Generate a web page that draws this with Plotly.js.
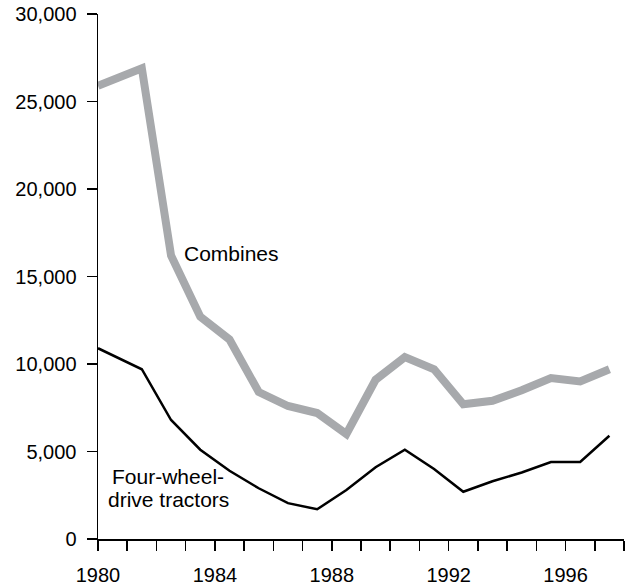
<!DOCTYPE html>
<html>
<head>
<meta charset="utf-8">
<script src="https://cdn.plot.ly/plotly-3.0.1.min.js"></script>
<style>html,body{margin:0;padding:0;background:#fff}#chart{width:632px;height:586px}</style>
</head>
<body>
<div id="chart"></div>
<script>
const years = [1980, 1981.5, 1982.5, 1983.5, 1984.5, 1985.5, 1986.5, 1987.5, 1988.5,
  1989.5, 1990.5, 1991.5, 1992.5, 1993.5, 1994.5, 1995.5, 1996.5, 1997.5];
const combines = [25900, 26900, 16200, 12700, 11400, 8400, 7600, 7200, 6000,
  9100, 10400, 9700, 7700, 7900, 8500, 9200, 9000, 9700];
const tractors = [10900, 9700, 6800, 5100, 3900, 2900, 2050, 1700, 2800,
  4100, 5100, 4000, 2700, 3300, 3800, 4400, 4400, 5900];
const combinesLabel = "Combines";
const tractorsLabelLines = ["Four-wheel-", "drive tractors"];

const tickFont = {family: "Liberation Sans, Arial, Helvetica, sans-serif", size: 20, color: "#000"};
const labelFont = {family: "Liberation Sans, Arial, Helvetica, sans-serif", size: 21, color: "#000"};

const data = [
  {x: years, y: combines, type: "scatter", mode: "lines",
   line: {color: "#a7a9ac", width: 8}, hoverinfo: "skip"},
  {x: years, y: tractors, type: "scatter", mode: "lines",
   line: {color: "#000", width: 2.5}, hoverinfo: "skip"}
];

const layout = {
  width: 632, height: 586,
  margin: {l: 98, r: 8, t: 14, b: 47},
  paper_bgcolor: "#fff", plot_bgcolor: "#fff",
  showlegend: false,
  font: tickFont,
  xaxis: {
    range: [1980, 1998], dtick: 4, tick0: 1980,
    showgrid: false, zeroline: false,
    showline: true, linecolor: "#000", linewidth: 1.5,
    ticks: "outside", ticklen: 10, tickwidth: 1.5, tickcolor: "#000",
    minor: {dtick: 1, ticks: "outside", ticklen: 10, tickwidth: 1.5, tickcolor: "#000", showgrid: false},
    tickfont: tickFont, ticklabelstandoff: 7
  },
  yaxis: {
    range: [0, 30000], dtick: 5000, tickformat: ",d",
    showgrid: false, zeroline: false,
    showline: true, linecolor: "#000", linewidth: 1.5,
    ticks: "outside", ticklen: 10, tickwidth: 1.5, tickcolor: "#000",
    tickfont: tickFont, ticklabelstandoff: 6
  },
  annotations: [
    {x: 1984.58, y: 16330, xref: "x", yref: "y", text: combinesLabel,
     showarrow: false, xanchor: "center", yanchor: "middle", font: labelFont},
    {x: 1982.41, y: 3573, xref: "x", yref: "y", text: tractorsLabelLines[0],
     showarrow: false, xanchor: "center", yanchor: "middle", font: labelFont},
    {x: 1982.41, y: 2243, xref: "x", yref: "y", text: tractorsLabelLines[1],
     showarrow: false, xanchor: "center", yanchor: "middle", font: labelFont}
  ]
};

Plotly.newPlot("chart", data, layout, {staticPlot: true, displayModeBar: false});
</script>
</body>
</html>
